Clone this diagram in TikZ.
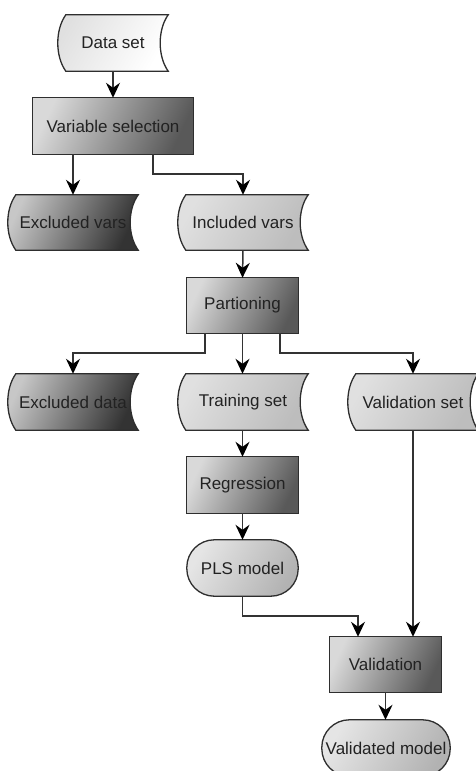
\documentclass[tikz,border=0pt]{standalone}
\usepackage{fontspec}
\setmainfont{Liberation Sans}
\usetikzlibrary{arrows.meta,calc,backgrounds}
\definecolor{bordc}{HTML}{2E2E2E}
\definecolor{linec}{HTML}{333333}
\definecolor{txtc}{HTML}{222222}
\newcommand\stshape[2]{\path[draw=bordc,line width=1.3pt,#2]
  ($(#1.north west)+(8,0)$) -- (#1.north east)
  .. controls ($(#1.north east)+(-10.7,15)$) and ($(#1.south east)+(-10.7,-15)$) .. (#1.south east)
  -- ($(#1.south west)+(8,0)$)
  .. controls ($(#1.south west)+(-2.7,-15)$) and ($(#1.north west)+(-2.7,15)$) .. cycle;}
\newcommand\rectshape[2]{\path[draw=bordc,line width=1.3pt,#2] (#1.north west) rectangle (#1.south east);}
\newcommand\pillshape[2]{\path[draw=bordc,line width=1.3pt,rounded corners=27.5pt,#2] (#1.north west) rectangle (#1.south east);}
\tikzset{
  txt/.style={inner sep=0pt, text=txtc, font=\fontsize{17}{19}\selectfont, minimum height=56pt},
  arr/.style={draw=linec, line width=1.5pt, -{Stealth[length=15pt,width=14pt,inset=5pt,color=black]}},
  whiteshade/.style={top color=white!88!black, bottom color=white, shading angle=60},
  lightshade/.style={top color=white!88!black, bottom color=white!74!black, shading angle=60},
  darkshade/.style={top color=white!85!black, bottom color=white!35!black, shading angle=65},
  blackshade/.style={top color=white!78!black, bottom color=white!20!black, shading angle=65},
  pillshade/.style={top color=white!90!black, bottom color=white!70!black, shading angle=60},
}
\begin{document}
\begin{tikzpicture}[x=1pt,y=-1pt]
\useasboundingbox (0,0) rectangle (476,771);
\node[txt, minimum width=110pt] (ds) at (113,43) {Data set};
\node[txt, minimum width=160pt] (vs) at (113,126) {Variable selection};
\node[txt, minimum width=130pt, minimum height=55pt] (ev) at (73,222.5) {Excluded vars};
\node[txt, minimum width=130pt, minimum height=55pt] (iv) at (243,222.5) {Included vars};
\node[txt, minimum width=111pt, minimum height=55pt] (part) at (242.5,305.5) {Partioning};
\node[txt, minimum width=130pt] (ed) at (73,402) {Excluded data};
\node[txt, minimum width=130pt] (ts) at (243,402) {Training set};
\node[txt, minimum width=130pt] (vset) at (413,402) {Validation set};
\node[txt, minimum width=111pt] (reg) at (242.5,485) {Regression};
\node[txt, minimum width=111pt] (pls) at (242.5,568) {PLS model};
\node[txt, minimum width=111pt, minimum height=55pt] (val) at (385.5,664.5) {Validation};
\node[txt, minimum width=128pt] (vm) at (386,748) {Validated model};
\begin{scope}[on background layer]
\stshape{ds}{whiteshade}
\rectshape{vs}{darkshade}
\stshape{ev}{blackshade}
\stshape{iv}{lightshade}
\rectshape{part}{darkshade}
\stshape{ed}{blackshade}
\stshape{ts}{lightshade}
\stshape{vset}{lightshade}
\rectshape{reg}{darkshade}
\pillshape{pls}{pillshade}
\rectshape{val}{darkshade}
\pillshape{vm}{pillshade}
\end{scope}
\draw[arr] (ds.south) -- (vs.north);
\draw[arr] (vs.south -| ev.north) -- (ev.north);
\draw[arr] ([xshift=40pt]vs.south) -- ++(0,20) -| (iv.north);
\draw[arr] (iv.south) -- (part.north);
\draw[arr] ([xshift=-37.5pt]part.south) -- ++(0,20) -| (ed.north);
\draw[arr] (part.south) -- (part.south |- ts.north);
\draw[arr] ([xshift=37.5pt]part.south) -- ++(0,20) -| (vset.north);
\draw[arr] (ts.south -| reg.north) -- (reg.north);
\draw[arr] (reg.south) -- (pls.north);
\draw[arr] (pls.south) -- ++(0,20) -| ([xshift=-27.5pt]val.north);
\draw[arr] (vset.south) -- (vset.south |- val.north);
\draw[arr] (val.south) -- (val.south |- vm.north);
\end{tikzpicture}
\end{document}
